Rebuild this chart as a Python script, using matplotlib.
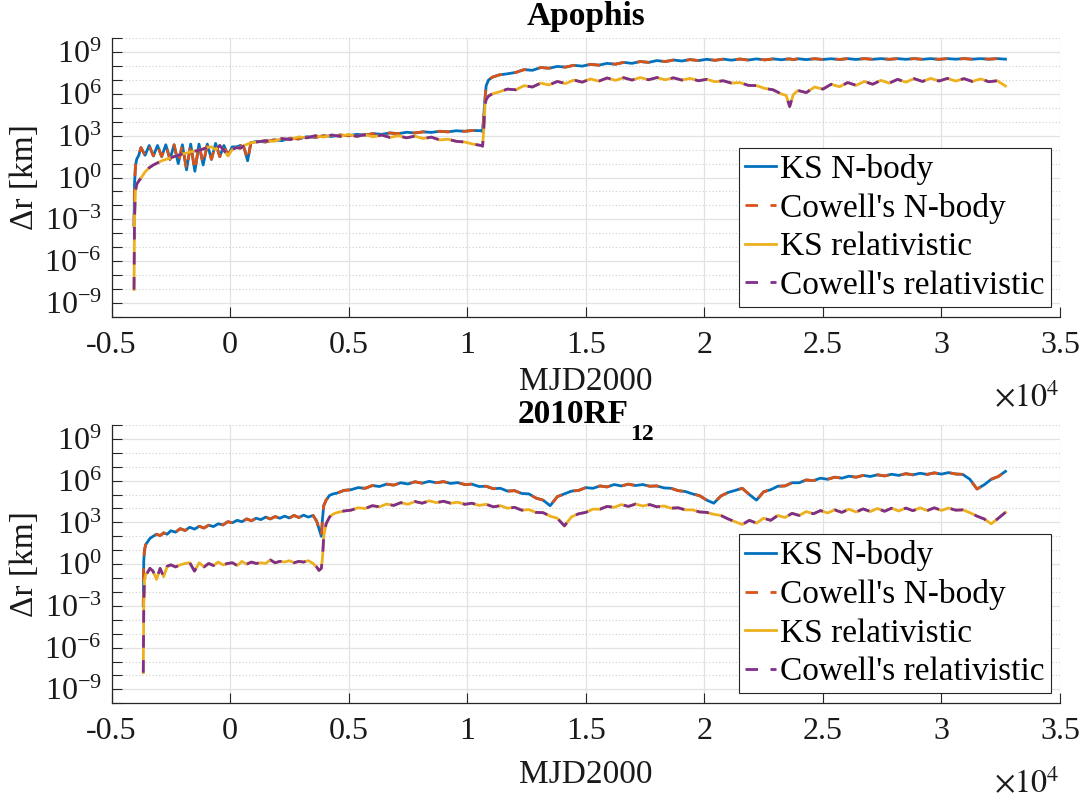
import numpy as np
import matplotlib
matplotlib.use("Agg")
import matplotlib.pyplot as plt
from matplotlib.ticker import FixedLocator, LogFormatterMathtext, NullFormatter, FixedFormatter
from matplotlib.transforms import offset_copy

plt.rcParams['font.family'] = ['Liberation Serif', 'DejaVu Serif']
plt.rcParams['mathtext.fontset'] = 'stix'

# ---------------- data (MJD2000 days, log10 of delta r in km) ----------------
apophis_t = [-4050, -4030, -3990, -3940, -3850, -3760, -3585, -3410, -3235, -3060,
             -2885, -2710, -2535, -2360, -2185, -2010, -1835, -1660, -1485, -1310,
             -1135, -960, -785, -610, -435, -260, -85, 90, 265, 440,
             600, 740, 880, 1140, 1490, 1840, 2190, 2540, 2890, 3240,
             3590, 3940, 4290, 4640, 4990, 5340, 5690, 6040, 6390, 6740,
             7090, 7440, 7790, 8140, 8490, 8840, 9190, 9540, 9890, 10240,
             10590, 10650, 10700, 10750, 10800, 10900, 11050, 11350, 11700, 12050,
             12400, 12750, 13100, 13450, 13800, 14150, 14500, 14850, 15200, 15550,
             15900, 16250, 16600, 16950, 17300, 17650, 18000, 18350, 18700, 19050,
             19400, 19750, 20100, 20450, 20800, 21150, 21500, 21850, 22200, 22550,
             22900, 23250, 23450, 23600, 23750, 23950, 24300, 24650, 25000, 25350,
             25700, 26050, 26400, 26750, 27100, 27450, 27800, 28150, 28500, 28850,
             29200, 29550, 29900, 30250, 30600, 30950, 31300, 31650, 32000, 32350,
             32700]
apophis_nbody = [-3.5, -0.5, 0.8, 1.3, 1.6, 2.15, 1.6, 2.3, 1.55, 2.3,
                 1.5, 2.35, 1.3, 2.35, 1.0, 2.35, 0.55, 2.4, 0.45, 2.4,
                 0.9, 2.4, 1.3, 2.45, 1.5, 2.3, 1.6, 2.2, 2.2, 2.3,
                 2.1, 1.2, 2.5, 2.6, 2.55, 2.7, 2.65, 2.82, 2.77, 2.93,
                 2.88, 3.0, 2.95, 3.05, 3.0, 3.1, 3.05, 3.15, 3.1, 3.2,
                 3.15, 3.25, 3.2, 3.28, 3.24, 3.32, 3.28, 3.36, 3.32, 3.38,
                 3.36, 3.3, 4.5, 5.6, 6.6, 7.0, 7.2, 7.37, 7.45, 7.55,
                 7.75, 7.7, 7.9, 7.85, 7.98, 7.93, 8.06, 8.0, 8.13, 8.07,
                 8.2, 8.14, 8.27, 8.2, 8.33, 8.27, 8.4, 8.33, 8.44, 8.37,
                 8.47, 8.4, 8.49, 8.42, 8.5, 8.43, 8.51, 8.44, 8.52, 8.45,
                 8.52, 8.46, 8.5, 8.52, 8.47, 8.53, 8.47, 8.53, 8.48, 8.53,
                 8.48, 8.54, 8.48, 8.54, 8.49, 8.54, 8.49, 8.54, 8.49, 8.54,
                 8.49, 8.54, 8.49, 8.54, 8.5, 8.54, 8.5, 8.54, 8.5, 8.54,
                 8.5]
apophis_rel = [-8.05, -3.0, -1.0, -0.5, -0.25, -0.05, 0.4, 0.7, 0.9, 1.05,
               1.2, 1.3, 1.4, 1.5, 1.6, 1.7, 1.75, 1.85, 1.9, 1.95,
               2.05, 2.15, 2.2, 2.0, 2.3, 1.95, 1.55, 2.0, 2.15, 2.1,
               2.3, 2.4, 2.5, 2.55, 2.65, 2.6, 2.8, 2.72, 2.92, 2.85,
               3.0, 2.9, 3.05, 2.95, 3.1, 2.95, 3.08, 2.92, 3.05, 2.88,
               3.0, 2.85, 2.97, 2.8, 2.9, 2.7, 2.75, 2.6, 2.55, 2.4,
               2.3, 2.25, 3.5, 5.2, 5.6, 5.85, 6.0, 6.15, 6.35, 6.3,
               6.6, 6.5, 6.78, 6.65, 6.9, 6.75, 7.0, 6.85, 7.08, 6.92,
               7.15, 6.98, 7.17, 7.0, 7.18, 7.02, 7.18, 7.02, 7.16, 7.0,
               7.12, 6.95, 7.05, 6.88, 6.95, 6.78, 6.82, 6.62, 6.6, 6.4,
               6.3, 6.0, 5.9, 5.1, 5.95, 6.25, 6.1, 6.5, 6.35, 6.7,
               6.52, 6.82, 6.62, 6.9, 6.7, 6.98, 6.78, 7.05, 6.85, 7.1,
               6.9, 7.12, 6.93, 7.12, 6.93, 7.1, 6.9, 7.08, 6.88, 6.95,
               6.58]

rf12_t = [-3660, -3640, -3610, -3560, -3480, -3380, -3250, -3100, -2950, -2800,
          -2650, -2500, -2300, -2100, -1900, -1700, -1500, -1300, -1100, -900,
          -700, -500, -300, -100, 100, 300, 500, 700, 900, 1100,
          1300, 1500, 1700, 1900, 2100, 2300, 2500, 2700, 2900, 3100,
          3300, 3500, 3650, 3750, 3850, 3900, 3950, 4050, 4200, 4350,
          4500, 4800, 5100, 5400, 5700, 6000, 6300, 6600, 6900, 7200,
          7500, 7800, 8100, 8400, 8700, 9000, 9300, 9600, 9900, 10200,
          10500, 10800, 11100, 11400, 11700, 12000, 12300, 12600, 12900, 13200,
          13500, 13800, 14100, 14400, 14700, 15000, 15300, 15600, 15900, 16200,
          16500, 16800, 17100, 17400, 17700, 18000, 18300, 18600, 18900, 19200,
          19500, 19800, 20100, 20400, 20700, 21000, 21300, 21600, 21900, 22200,
          22500, 22800, 23100, 23400, 23700, 24000, 24300, 24600, 24900, 25200,
          25500, 25800, 26100, 26400, 26700, 27000, 27300, 27600, 27900, 28200,
          28500, 28800, 29100, 29400, 29700, 30000, 30300, 30600, 30900, 31200,
          31500, 31800, 32100, 32400, 32700]
rf12_nbody = [-3.0, 0.2, 1.0, 1.4, 1.6, 1.85, 2.0, 2.15, 2.05, 2.25,
              2.15, 2.4, 2.3, 2.55, 2.42, 2.65, 2.52, 2.72, 2.6, 2.8,
              2.7, 2.9, 2.82, 3.05, 2.98, 3.15, 3.05, 3.25, 3.12, 3.3,
              3.2, 3.38, 3.25, 3.42, 3.3, 3.45, 3.32, 3.5, 3.35, 3.52,
              3.38, 3.5, 3.1, 2.55, 2.0, 3.3, 4.2, 4.6, 4.95, 5.05,
              5.1, 5.3, 5.35, 5.5, 5.45, 5.65, 5.58, 5.75, 5.68, 5.85,
              5.76, 5.92, 5.82, 5.95, 5.85, 5.93, 5.8, 5.86, 5.72, 5.75,
              5.58, 5.6, 5.42, 5.45, 5.25, 5.28, 5.08, 5.05, 4.75, 4.6,
              4.2, 4.85, 5.05, 5.25, 5.3, 5.5, 5.45, 5.62, 5.55, 5.72,
              5.62, 5.75, 5.65, 5.72, 5.6, 5.62, 5.48, 5.45, 5.28, 5.22,
              5.05, 4.92, 4.6, 4.38, 4.9, 5.15, 5.3, 5.45, 5.0, 4.6,
              5.2, 5.35, 5.6, 5.62, 5.85, 5.85, 6.05, 6.0, 6.18, 6.1,
              6.25, 6.18, 6.32, 6.25, 6.38, 6.3, 6.42, 6.34, 6.46, 6.38,
              6.5, 6.42, 6.53, 6.45, 6.56, 6.47, 6.58, 6.48, 6.45, 6.1,
              5.4, 5.7, 6.1, 6.3, 6.67]
rf12_rel = [-7.8, -3.0, -1.2, -0.75, -0.6, -0.3, -0.5, -1.1, -0.3, -0.9,
            -0.15, -0.05, -0.2, -0.05, 0.05, 0.1, -0.5, 0.1, -0.2, 0.05,
            -0.1, 0.15, -0.05, 0.05, 0.1, -0.1, 0.2, 0.0, 0.15, 0.05,
            0.1, 0.05, 0.3, 0.1, 0.2, 0.15, 0.25, 0.1, 0.2, 0.15,
            0.25, 0.05, -0.2, -0.45, -0.3, 0.5, 2.0, 2.9, 3.4, 3.6,
            3.7, 3.82, 3.88, 4.05, 4.0, 4.2, 4.12, 4.32, 4.22, 4.42,
            4.3, 4.5, 4.38, 4.55, 4.42, 4.52, 4.38, 4.45, 4.3, 4.38,
            4.22, 4.3, 4.12, 4.2, 4.02, 4.08, 3.88, 3.92, 3.72, 3.7,
            3.45, 3.3, 2.75, 3.4, 3.62, 3.72, 3.95, 3.95, 4.15, 4.08,
            4.28, 4.15, 4.32, 4.18, 4.28, 4.12, 4.18, 4.02, 4.05, 3.9,
            3.9, 3.75, 3.72, 3.58, 3.5, 3.25, 3.05, 2.85, 3.15, 2.95,
            3.3, 3.15, 3.5, 3.35, 3.65, 3.5, 3.78, 3.62, 3.85, 3.68,
            3.9, 3.72, 3.95, 3.75, 3.97, 3.78, 4.0, 3.8, 4.02, 3.82,
            4.03, 3.84, 4.05, 3.85, 4.05, 3.86, 4.03, 3.88, 3.9, 3.7,
            3.45, 3.25, 2.9, 3.3, 3.72]

series_labels = ["KS N-body", "Cowell's N-body", "KS relativistic", "Cowell's relativistic"]
series_colors = ["#0072BD", "#D95319", "#EDB120", "#7E2F8E"]
titles = [("Apophis", ""), ("2010RF", "12")]
x_ticks = [-5000, 0, 5000, 10000, 15000, 20000, 25000, 30000, 35000]
x_tick_labels = ["-0.5", "0", "0.5", "1", "1.5", "2", "2.5", "3", "3.5"]
y_major = [1e-9, 1e-6, 1e-3, 1e0, 1e3, 1e6, 1e9]
y_minor = [1e-10, 1e-8, 1e-7, 1e-5, 1e-4, 1e-2, 1e-1, 1e1, 1e2, 1e4, 1e5, 1e7, 1e8, 1e10]

assert len(apophis_t) == len(apophis_nbody) == len(apophis_rel)
assert len(rf12_t) == len(rf12_nbody) == len(rf12_rel)

datasets = [
    (apophis_t, apophis_nbody, apophis_rel),
    (rf12_t, rf12_nbody, rf12_rel),
]

fig = plt.figure(figsize=(10.89, 8.01), dpi=100)
W, H = 1089.0, 801.0
ax_left, ax_right = 111.5, 1060.0
boxes = [(38.3, 316.7), (425.0, 703.3)]
title_base = [25.0, 423.3]
xlabel_base = [390.0, 783.0]

dark = "#262626"
lw = 2.0
dash = (0, (4.5, 4.5))
axes_list = []

for i, (t, nb, rel) in enumerate(datasets):
    top, bot = boxes[i]
    ax = fig.add_axes([ax_left / W, 1 - bot / H, (ax_right - ax_left) / W, (bot - top) / H])
    axes_list.append(ax)
    hpx = bot - top
    t = np.array(t, dtype=float)
    nb = 10 ** np.array(nb)
    rel = 10 ** np.array(rel)
    ax.plot(t, nb, color=series_colors[0], lw=lw, label=series_labels[0])
    ax.plot(t, nb, color=series_colors[1], lw=lw, ls=dash, label=series_labels[1])
    ax.plot(t, rel, color=series_colors[2], lw=lw, label=series_labels[2])
    ax.plot(t, rel, color=series_colors[3], lw=lw, ls=dash, label=series_labels[3])

    ax.set_yscale('log')
    ax.set_ylim(1e-10, 1e10)
    ax.set_xlim(-5000, 35000)
    ax.yaxis.set_major_locator(FixedLocator(y_major))
    ax.yaxis.set_major_formatter(LogFormatterMathtext())
    ax.yaxis.set_minor_locator(FixedLocator(y_minor))
    ax.yaxis.set_minor_formatter(NullFormatter())
    ax.xaxis.set_major_locator(FixedLocator(x_ticks))
    ax.xaxis.set_major_formatter(FixedFormatter(x_tick_labels))

    ax.set_axisbelow(True)
    ax.grid(which='major', axis='both', color='#e2e2e2', lw=0.9, ls='-')
    ax.grid(which='minor', axis='y', color='#cfcfcf', lw=0.8, ls=(0, (1, 2)))
    for s in ['top', 'right']:
        ax.spines[s].set_visible(False)
    for s in ['left', 'bottom']:
        ax.spines[s].set_color(dark)
        ax.spines[s].set_linewidth(0.9)
    ax.tick_params(axis='both', which='both', direction='in', length=7, width=0.8,
                   colors=dark, labelsize=23)
    ax.tick_params(axis='y', which='both', pad=7)
    ax.tick_params(axis='x', which='major', pad=10)
    for lab in ax.get_xticklabels() + ax.get_yticklabels():
        lab.set_color('#1a1a1a')

    ax.text(0.5, -(xlabel_base[i] - bot) / hpx, 'MJD2000', transform=ax.transAxes,
            ha='center', va='baseline', fontsize=24, color='#1a1a1a')
    ax.text(1.0, -90.0 / hpx, r'$\times10^{4}$', transform=ax.transAxes,
            ha='right', va='baseline', fontsize=23, color='#1a1a1a')
    ax.text(-(ax_left - 25.0) / (ax_right - ax_left), 0.5, 'Δr [km]', transform=ax.transAxes,
            rotation=90, ha='center', va='center', fontsize=24, color='#1a1a1a')

    leg = ax.legend(loc='lower right', bbox_to_anchor=(0.9905, 10.0 / hpx), borderaxespad=0,
                    fontsize=24, frameon=True, fancybox=False, framealpha=1,
                    edgecolor=dark, handlelength=0.95, handletextpad=0.12,
                    labelspacing=0.24, borderpad=0.18)
    leg.get_frame().set_linewidth(0.8)

# titles (main text + optional bold subscript), centred over the axes
fig.canvas.draw()
renderer = fig.canvas.get_renderer()
for i, ax in enumerate(axes_list):
    top, bot = boxes[i]
    main, sub = titles[i]
    ybase = 1 - title_base[i] / H
    tm = fig.text(0, ybase, main, ha='left', va='baseline', fontsize=24,
                  fontweight='bold', color='black')
    wm = tm.get_window_extent(renderer).width
    ws = 0.0
    ts = None
    if sub:
        ts = fig.text(0, ybase - 17.0 / H, sub, ha='left', va='baseline', fontsize=17,
                      fontweight='bold', color='black')
        ws = ts.get_window_extent(renderer).width + 1
    centre = (ax_left + ax_right) / 2.0
    x0 = centre - (wm + ws) / 2.0
    tm.set_x(x0 / W)
    if ts is not None:
        ts.set_x((x0 + wm + 1) / W)

fig.savefig('out.png', dpi=100)
